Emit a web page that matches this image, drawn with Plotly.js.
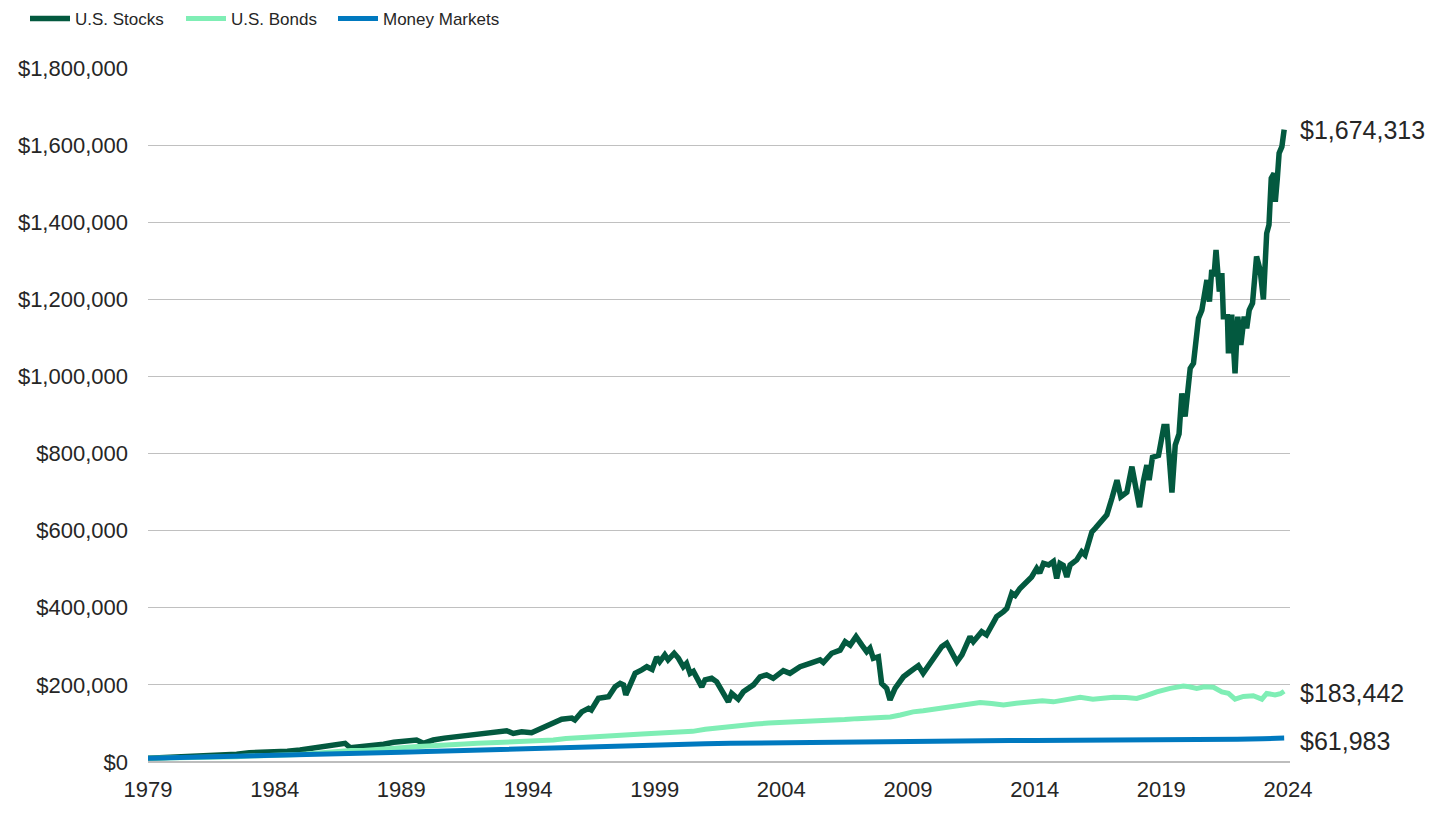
<!DOCTYPE html>
<html>
<head>
<meta charset="utf-8">
<script src="https://cdn.plot.ly/plotly-3.0.1.min.js"></script>
<style>
  html, body { margin: 0; padding: 0; background: #ffffff; }
  #chart { width: 1440px; height: 813px; }
</style>
</head>
<body>
<div id="chart"></div>
<script>
// ---------- Data ----------
const seriesNames = ["U.S. Stocks", "U.S. Bonds", "Money Markets"];
const endLabels = ["$1,674,313", "$183,442", "$61,983"];
const xTickVals = [1979, 1984, 1989, 1994, 1999, 2004, 2009, 2014, 2019, 2024];
const xTickText = ["1979", "1984", "1989", "1994", "1999", "2004", "2009", "2014", "2019", "2024"];
const yTickVals = [0, 200000, 400000, 600000, 800000, 1000000, 1200000, 1400000, 1600000, 1800000];
const yTickText = ["$0", "$200,000", "$400,000", "$600,000", "$800,000", "$1,000,000", "$1,200,000", "$1,400,000", "$1,600,000", "$1,800,000"];

const stockYears = [
  1979.0, 1979.5, 1980.0, 1980.5, 1981.0, 1981.5, 1982.0, 1982.5, 1983.0, 1983.5,
  1984.0, 1984.5, 1985.0, 1985.5, 1986.0, 1986.58, 1986.78, 1986.98, 1987.4, 1987.9,
  1988.3, 1988.7, 1989.2, 1989.6, 1989.87, 1990.26, 1990.7, 1991.19, 1991.8, 1992.5,
  1993.16, 1993.42, 1993.75, 1994.14, 1994.54, 1994.9, 1995.33, 1995.73, 1995.85, 1996.12,
  1996.39, 1996.5, 1996.78, 1997.18, 1997.44, 1997.64, 1997.77, 1997.86, 1998.03, 1998.23,
  1998.49, 1998.69, 1998.9, 1999.08, 1999.2, 1999.4, 1999.53, 1999.77, 1999.94, 2000.13,
  2000.26, 2000.4, 2000.53, 2000.66, 2000.86, 2000.99, 2001.25, 2001.45, 2001.65, 2001.91,
  2002.04, 2002.3, 2002.5, 2002.9, 2003.16, 2003.42, 2003.68, 2004.08, 2004.34, 2004.74,
  2005.13, 2005.53, 2005.66, 2005.99, 2006.32, 2006.52, 2006.72, 2006.95, 2007.18, 2007.37,
  2007.5, 2007.63, 2007.83, 2007.96, 2008.16, 2008.29, 2008.49, 2008.82, 2009.08, 2009.41,
  2009.6, 2010.0, 2010.33, 2010.53, 2010.93, 2011.13, 2011.45, 2011.58, 2011.91, 2012.1,
  2012.5, 2012.77, 2012.9, 2013.1, 2013.23, 2013.42, 2013.69, 2013.88, 2014.08, 2014.2,
  2014.35, 2014.55, 2014.74, 2014.87, 2015.0, 2015.13, 2015.27, 2015.4, 2015.66, 2015.86,
  2015.99, 2016.26, 2016.39, 2016.65, 2016.85, 2017.05, 2017.25, 2017.4, 2017.64, 2017.84,
  2017.97, 2018.14, 2018.3, 2018.43, 2018.52, 2018.65, 2018.89, 2019.1, 2019.22, 2019.42,
  2019.55, 2019.7, 2019.81, 2019.94, 2020.14, 2020.27, 2020.47, 2020.6, 2020.8, 2020.9,
  2020.99, 2021.08, 2021.16, 2021.29, 2021.39, 2021.45, 2021.61, 2021.65, 2021.78, 2021.91,
  2022.02, 2022.14, 2022.27, 2022.37, 2022.47, 2022.6, 2022.76, 2022.9, 2023.03, 2023.16,
  2023.25, 2023.34, 2023.45, 2023.5, 2023.58, 2023.65, 2023.76, 2023.85
];
const stockValues = [
  10000, 11200, 12500, 14500, 16000, 15500, 17500, 20000, 24000, 24500,
  26000, 28000, 31000, 35500, 40000, 44000, 48500, 37000, 40000, 41500,
  46000, 51000, 52700, 57000, 48500, 57000, 62000, 65600, 70000, 74000,
  81000, 74000, 78600, 76000, 87000, 98000, 111000, 114000, 109000, 130000,
  139000, 135000, 165000, 169000, 195000, 204000, 200000, 174000, 204000, 230000,
  239000, 247000, 240000, 272000, 260000, 278000, 265000, 282000, 269000, 247000,
  256000, 230000, 235000, 217000, 195000, 213000, 217000, 208000, 182000, 156000,
  178000, 163000, 182000, 200000, 221000, 226000, 217000, 237000, 230000, 247000,
  256000, 265000, 258000, 282000, 290000, 312000, 303000, 325000, 303000, 286000,
  295000, 269000, 273000, 204000, 191000, 161000, 191000, 221000, 234000, 250000,
  230000, 265000, 299000, 308000, 260000, 278000, 325000, 312000, 338000, 330000,
  377000, 390000, 398000, 438000, 432000, 450000, 468000, 480000, 502000, 490000,
  515000, 511000, 520000, 476000, 515000, 510000, 480000, 511000, 524000, 545000,
  537000, 597000, 606000, 628000, 641000, 684000, 731000, 688000, 700000, 766000,
  720000, 661000, 731000, 770000, 731000, 790000, 795000, 870000, 870000, 699000,
  822000, 851000, 956000, 896000, 1021000, 1034000, 1151000, 1172000, 1250000, 1194000,
  1276000, 1260000, 1328000, 1220000, 1268000, 1155000, 1155000, 1060000, 1160000, 1008000,
  1155000, 1082000, 1155000, 1125000, 1172000, 1190000, 1311000, 1276000, 1200000, 1371000,
  1393000, 1514000, 1527000, 1453000, 1514000, 1579000, 1596000, 1640000
];

const bondYears = [
  1979.0, 1979.5, 1980.0, 1980.5, 1981.0, 1981.5, 1982.0, 1982.5, 1983.0, 1983.5,
  1984.0, 1984.5, 1985.0, 1985.5, 1986.0, 1986.5, 1987.0, 1987.5, 1988.0, 1988.5,
  1989.0, 1989.5, 1990.0, 1990.5, 1991.0, 1991.5, 1992.0, 1992.5, 1993.0, 1993.5,
  1994.0, 1994.5, 1995.0, 1995.5, 1996.0, 1996.5, 1997.0, 1997.5, 1998.0, 1998.5,
  1999.0, 1999.5, 2000.0, 2000.5, 2001.0, 2001.5, 2002.0, 2002.5, 2003.0, 2003.5,
  2004.0, 2004.5, 2005.0, 2005.5, 2006.0, 2006.5, 2007.0, 2007.5, 2007.9, 2008.3,
  2008.7, 2009.2, 2009.6, 2010.0, 2010.53, 2011.0, 2011.4, 2011.85, 2012.3, 2012.77,
  2013.2, 2013.7, 2014.3, 2014.74, 2015.2, 2015.8, 2016.3, 2016.7, 2017.11, 2017.6,
  2018.03, 2018.4, 2018.82, 2019.35, 2019.87, 2020.1, 2020.4, 2020.7, 2021.06, 2021.39,
  2021.65, 2021.91, 2022.24, 2022.63, 2022.97, 2023.16, 2023.49, 2023.7, 2023.85
];
const bondValues = [
  10000, 10300, 10200, 11000, 11200, 11300, 12000, 13500, 15500, 16000,
  17000, 17500, 19500, 22000, 25000, 28000, 30000, 30000, 31500, 33500,
  37000, 39500, 40500, 42500, 44500, 46500, 48500, 50000, 52000, 54500,
  56000, 54500, 57000, 61000, 63500, 63500, 65500, 68000, 70500, 72500,
  74000, 74000, 75500, 79500, 85000, 89000, 92500, 95500, 98500, 101000,
  102000, 103000, 104500, 106500, 108500, 110000, 112500, 114500, 113000, 117000,
  122000, 130000, 133000, 137000, 143000, 146000, 150000, 154000, 152000, 148000,
  152000, 154000, 159000, 156000, 160000, 168000, 163000, 166000, 168000, 167000,
  165000, 172000, 182000, 191000, 197000, 195000, 191000, 195000, 194000, 182000,
  178000, 163000, 170000, 172000, 163000, 178000, 174000, 177000, 183442
];

const moneyYears = [
  1979, 1980, 1981, 1982, 1983, 1984, 1985, 1986, 1987, 1988,
  1989, 1990, 1991, 1992, 1993, 1994, 1995, 1996, 1997, 1998,
  1999, 2000, 2001, 2002, 2003, 2004, 2005, 2006, 2007, 2008,
  2009, 2010, 2011, 2012, 2013, 2014, 2015, 2016, 2017, 2018,
  2019, 2020, 2021, 2022, 2023, 2023.85
];
const moneyValues = [
  10000, 11200, 12700, 14400, 15800, 17300, 18900, 20400, 21800, 23300,
  25100, 27200, 29300, 31000, 32300, 33500, 35200, 37100, 39000, 41000,
  43000, 45000, 47300, 48700, 49400, 49800, 50700, 52200, 54000, 55400,
  55800, 55900, 55950, 56000, 56000, 56050, 56100, 56200, 56500, 57200,
  58300, 59000, 59100, 59200, 60300, 61983
];

// ---------- Styling ----------
const colors = ["#03593F", "#7FEEB5", "#0079BF"];
const lineWidths = [5.5, 5, 5];
const textColor = "#262626";
const baseFont = "Liberation Sans, Arial, Helvetica, sans-serif";

const xs = [stockYears, bondYears, moneyYears];
const ys = [stockValues, bondValues, moneyValues];
const legendIds = ["legend", "legend2", "legend3"];
const legendLeftPx = [25, 181, 333];

const traces = seriesNames.map((name, i) => ({
  type: "scatter",
  mode: "lines",
  name: name,
  x: xs[i],
  y: ys[i],
  legend: legendIds[i],
  line: { color: colors[i], width: lineWidths[i], shape: "linear" },
  hoverinfo: "skip"
}));

const annotations = seriesNames.map((name, i) => ({
  xref: "paper",
  x: 1,
  xanchor: "left",
  xshift: 8,
  yref: "y",
  y: ys[i][ys[i].length - 1],
  yanchor: "middle",
  text: endLabels[i],
  showarrow: false,
  font: { family: baseFont, size: 25, color: textColor }
}));
annotations[0].yshift = 0;
annotations[1].yshift = -2;
annotations[2].yshift = -3;

const layout = {
  width: 1440,
  height: 813,
  margin: { l: 148, r: 150, t: 68, b: 51 },
  paper_bgcolor: "#ffffff",
  plot_bgcolor: "#ffffff",
  font: { family: baseFont, size: 22, color: textColor },
  showlegend: true,
  xaxis: {
    type: "linear",
    range: [1979, 2024.08],
    tickmode: "array",
    tickvals: xTickVals,
    ticktext: xTickText,
    showgrid: false,
    zeroline: false,
    showline: false,
    ticks: "",
    ticklabelstandoff: 12,
    tickfont: { family: baseFont, size: 22, color: textColor },
    fixedrange: true
  },
  yaxis: {
    range: [0, 1800000],
    tickmode: "array",
    tickvals: yTickVals,
    ticktext: yTickText,
    showgrid: true,
    gridcolor: "#C0C0C0",
    gridwidth: 1,
    zeroline: true,
    zerolinecolor: "#BDBDBD",
    zerolinewidth: 2,
    showline: false,
    ticks: "",
    ticklabelstandoff: 19,
    tickfont: { family: baseFont, size: 22, color: textColor },
    fixedrange: true
  },
  annotations: annotations
};

legendIds.forEach((id, i) => {
  layout[id] = {
    orientation: "h",
    xref: "container",
    yref: "container",
    x: legendLeftPx[i] / 1440,
    y: 1 - 1 / 813,
    xanchor: "left",
    yanchor: "top",
    itemwidth: 40,
    font: { family: baseFont, size: 17, color: textColor },
    bgcolor: "rgba(0,0,0,0)"
  };
});

Plotly.newPlot("chart", traces, layout, { displayModeBar: false, staticPlot: true });
</script>
</body>
</html>
